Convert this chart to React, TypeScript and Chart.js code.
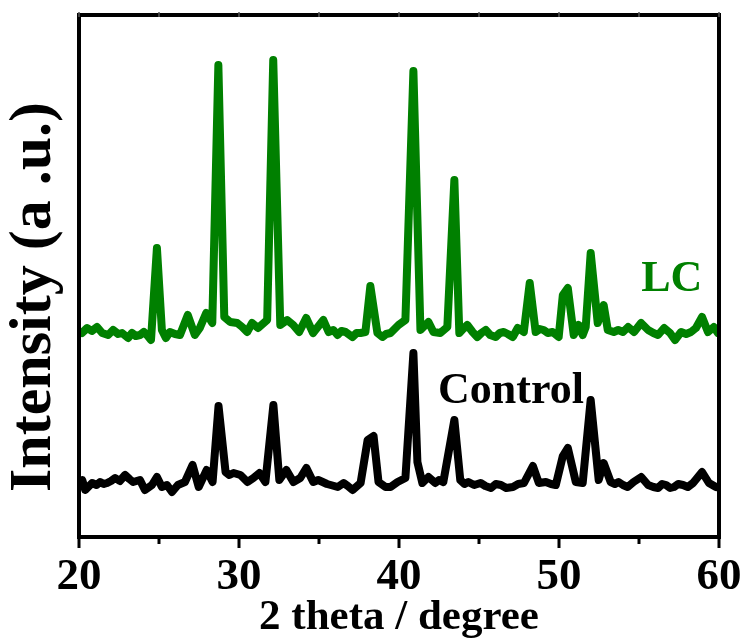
import React, { useEffect, useRef } from 'react';
import { Chart, registerables } from 'chart.js';

Chart.register(...registerables);

// 2θ positions (degree) and intensities (a.u.)
const lcX = [
  20.18, 20.51, 20.8, 21.13, 21.45, 21.82, 22.13, 22.45, 22.69, 23.07, 23.31, 23.55, 23.81, 24.05, 24.25,
  24.5, 24.87, 25.18, 25.43, 25.68, 26.0, 26.31, 26.8, 27.24, 27.55, 27.95, 28.33, 28.71, 29.08, 29.45,
  29.89, 30.2, 30.51, 30.82, 31.19, 31.76, 32.14, 32.58, 33.01, 33.39, 33.76, 34.2, 34.63, 35.27, 35.6,
  35.9, 36.16, 36.4, 36.66, 37.09, 37.35, 37.59, 37.9, 38.21, 38.65, 38.96, 39.2, 39.47, 39.97, 40.4,
  40.9, 41.34, 41.84, 42.15, 42.58, 43.02, 43.46, 43.77, 44.0, 44.27, 44.6, 44.89, 45.15, 45.42, 45.7,
  46.04, 46.3, 46.55, 46.8, 47.11, 47.42, 47.8, 48.17, 48.54, 48.8, 49.04, 49.3, 49.6, 49.98, 50.24,
  50.55, 50.92, 51.23, 51.48, 51.67, 51.98, 52.42, 52.79, 53.05, 53.42, 53.7, 54.0, 54.32, 54.69, 55.13,
  55.57, 55.9, 56.19, 56.57, 56.94, 57.25, 57.63, 57.95, 58.25, 58.56, 58.94, 59.31, 59.68, 59.93,
];
const lcY = [
  204, 209, 206, 210, 204, 202, 207, 203, 204, 199, 204, 201, 202, 205, 202,
  197, 289, 207, 199, 205, 203, 202, 222, 202, 209, 224, 214, 472, 220, 215,
  214, 210, 205, 214, 209, 217, 477, 212, 217, 212, 205, 219, 204, 217, 205,
  207, 202, 206, 205, 200, 204, 204, 205, 251, 204, 200, 203, 204, 212, 217,
  466, 207, 215, 205, 204, 210, 357, 204, 208, 212, 205, 200, 204, 207, 202,
  200, 204, 205, 203, 200, 209, 205, 254, 205, 208, 207, 204, 205, 200, 242,
  249, 202, 212, 202, 210, 284, 214, 232, 207, 205, 207, 205, 210, 205, 214,
  207, 204, 202, 209, 204, 197, 205, 203, 205, 209, 220, 205, 210, 204,
];

const controlX = [
  20.2, 20.39, 20.82, 21.1, 21.32, 21.55, 21.76, 22.0, 22.26, 22.55, 22.88, 23.15, 23.38, 23.81, 24.12,
  24.56, 24.87, 25.18, 25.5, 25.81, 26.18, 26.62, 27.1, 27.48, 27.98, 28.35, 28.72, 29.16, 29.4, 29.66,
  30.09, 30.53, 30.9, 31.28, 31.65, 32.15, 32.52, 32.96, 33.4, 33.83, 34.21, 34.64, 34.95, 35.23, 35.5,
  35.73, 36.17, 36.54, 36.8, 37.1, 37.6, 38.04, 38.41, 38.72, 39.16, 39.47, 39.91, 40.4, 40.9, 41.15,
  41.46, 41.84, 42.27, 42.5, 42.77, 43.46, 43.83, 44.1, 44.33, 44.7, 45.1, 45.4, 45.75, 46.05, 46.37,
  46.7, 47.12, 47.45, 47.81, 48.37, 48.74, 49.18, 49.5, 49.8, 50.24, 50.55, 51.05, 51.48, 51.98, 52.48,
  52.79, 53.23, 53.5, 53.72, 54.0, 54.29, 54.66, 55.14, 55.57, 55.9, 56.19, 56.45, 56.69, 56.95, 57.19,
  57.45, 57.75, 58.05, 58.38, 58.94, 59.37, 59.81,
];
const controlY = [
  57, 47, 54, 52, 55, 53, 54, 56, 59, 56, 62, 58, 55, 57, 47,
  52, 60, 50, 52, 45, 52, 55, 72, 50, 67, 55, 131, 65, 62, 64,
  62, 55, 59, 64, 55, 132, 57, 67, 55, 59, 69, 55, 57, 55, 53,
  52, 50, 54, 51, 47, 54, 97, 101, 55, 50, 50, 55, 59, 184, 75,
  54, 60, 54, 57, 55, 117, 57, 53, 55, 52, 54, 51, 49, 53, 52,
  49, 50, 53, 54, 71, 54, 55, 53, 52, 81, 89, 55, 54, 137, 57,
  74, 55, 53, 55, 52, 50, 55, 60, 52, 50, 49, 53, 52, 49, 50,
  53, 52, 50, 54, 65, 54, 50,
];

const seriesNames = ['LC', 'Control'];
const seriesColors = ['#008000', '#000000'];
const xMajorTicks = [20, 30, 40, 50, 60];
const xMinorTicks = [25, 35, 45, 55];
const xTitle = '2 theta / degree';
const yTitle = 'Intensity (a .u.)';

const FONT = "'Liberation Serif', 'Times New Roman', serif";

const framePlugin = {
  id: 'frameAndLabels',
  afterDatasetsDraw(chart: any) {
    const { ctx, chartArea: a, scales } = chart;
    const xs = scales.x;
    const ys = scales.y;
    ctx.save();
    ctx.strokeStyle = '#000';
    ctx.lineWidth = 4;
    ctx.strokeRect(a.left, a.top, a.right - a.left, a.bottom - a.top);

    ctx.lineWidth = 3;
    ctx.lineCap = 'butt';
    ctx.beginPath();
    for (const v of xMajorTicks) {
      const px = xs.getPixelForValue(v);
      ctx.moveTo(px, a.bottom);
      ctx.lineTo(px, a.bottom + 11);
    }
    for (const v of xMinorTicks) {
      const px = xs.getPixelForValue(v);
      ctx.moveTo(px, a.bottom);
      ctx.lineTo(px, a.bottom + 7);
    }
    ctx.stroke();

    ctx.lineWidth = 1.5;
    ctx.strokeStyle = '#555';
    ctx.beginPath();
    for (const v of [...xMajorTicks, ...xMinorTicks]) {
      const px = xs.getPixelForValue(v);
      ctx.moveTo(px, a.top - 3);
      ctx.lineTo(px, a.top + 2);
    }
    ctx.stroke();

    // series labels
    ctx.font = `bold 44px ${FONT}`;
    ctx.textAlign = 'center';
    ctx.textBaseline = 'alphabetic';
    ctx.fillStyle = seriesColors[0];
    ctx.fillText(seriesNames[0], xs.getPixelForValue(57.05), ys.getPixelForValue(246));
    ctx.fillStyle = seriesColors[1];
    ctx.fillText(seriesNames[1], xs.getPixelForValue(47.0), ys.getPixelForValue(134));

    // y-axis title (rotated)
    ctx.fillStyle = '#000';
    ctx.font = `bold 60px ${FONT}`;
    ctx.translate(50, (a.top + a.bottom) / 2 + 21);
    ctx.rotate(-Math.PI / 2);
    ctx.textAlign = 'center';
    ctx.textBaseline = 'alphabetic';
    ctx.fillText(yTitle, 0, 0);
    ctx.restore();
  },
};

export default function App() {
  const ref = useRef<HTMLCanvasElement | null>(null);

  useEffect(() => {
    if (!ref.current) return;
    const chart = new Chart(ref.current, {
      type: 'line',
      data: {
        datasets: [
          {
            label: seriesNames[0],
            data: lcX.map((x, i) => ({ x, y: lcY[i] })),
            borderColor: seriesColors[0],
            borderWidth: 8,
            borderJoinStyle: 'round',
            borderCapStyle: 'round',
            pointRadius: 0,
            tension: 0,
            fill: false,
          },
          {
            label: seriesNames[1],
            data: controlX.map((x, i) => ({ x, y: controlY[i] })),
            borderColor: seriesColors[1],
            borderWidth: 8,
            borderJoinStyle: 'round',
            borderCapStyle: 'round',
            pointRadius: 0,
            tension: 0,
            fill: false,
          },
        ],
      },
      options: {
        animation: false,
        responsive: false,
        maintainAspectRatio: false,
        layout: { padding: { left: 0, top: 15, right: 21, bottom: 0 } },
        plugins: { legend: { display: false }, tooltip: { enabled: false } },
        scales: {
          x: {
            type: 'linear',
            min: 20,
            max: 60,
            afterFit: (s: any) => { s.height = 102; s.paddingLeft = 0; s.paddingRight = 0; },
            afterBuildTicks: (s: any) => { s.ticks = xMajorTicks.map((v) => ({ value: v })); },
            border: { display: false },
            grid: { display: true, drawOnChartArea: false, drawTicks: true, tickLength: 10, tickColor: 'rgba(0,0,0,0)' },
            ticks: {
              color: '#000',
              padding: 3,
              maxRotation: 0,
              autoSkip: false,
              font: { family: FONT, size: 45, weight: 'bold' },
            },
            title: {
              display: true,
              text: xTitle,
              color: '#000',
              padding: { top: 0, bottom: 0 },
              font: { family: FONT, size: 43, weight: 'bold', lineHeight: 1 },
            },
          },
          y: {
            type: 'linear',
            min: 0,
            max: 522,
            afterFit: (s: any) => { s.width = 79; },
            border: { display: false },
            grid: { display: false },
            ticks: { display: false },
            title: { display: false, text: yTitle },
          },
        },
      },
      plugins: [framePlugin],
    } as any);
    return () => chart.destroy();
  }, []);

  return (
    <div style={{ position: 'fixed', left: 0, top: 0, width: 740, height: 639, background: '#fff' }}>
      <canvas ref={ref} width={740} height={639} style={{ display: 'block', width: 740, height: 639 }} />
    </div>
  );
}
